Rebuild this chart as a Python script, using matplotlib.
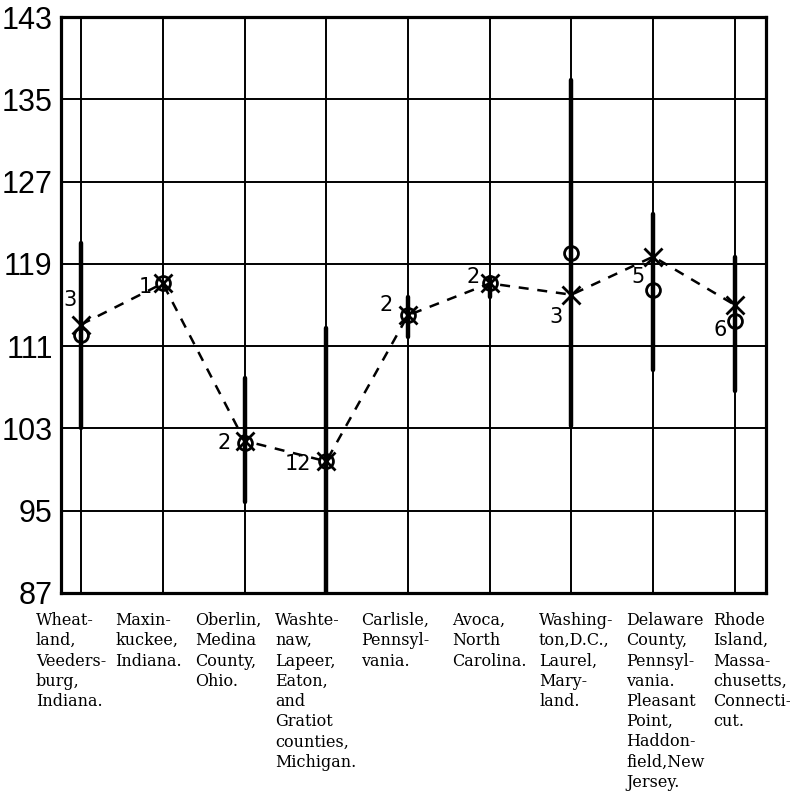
import matplotlib
matplotlib.use("Agg")
import matplotlib.pyplot as plt
import numpy as np

# ---- data ----
categories = [
    "Wheat-\nland,\nVeeders-\nburg,\nIndiana.",
    "Maxin-\nkuckee,\nIndiana.",
    "Oberlin,\nMedina\nCounty,\nOhio.",
    "Washte-\nnaw,\nLapeer,\nEaton,\nand\nGratiot\ncounties,\nMichigan.",
    "Carlisle,\nPennsyl-\nvania.",
    "Avoca,\nNorth\nCarolina.",
    "Washing-\nton,D.C.,\nLaurel,\nMary-\nland.",
    "Delaware\nCounty,\nPennsyl-\nvania.\nPleasant\nPoint,\nHaddon-\nfield,New\nJersey.",
    "Rhode\nIsland,\nMassa-\nchusetts,\nConnecti-\ncut.",
]
cross_values = [113.1, 117.1, 101.8, 99.8, 114.0, 117.1, 116.0, 119.7, 115.0]
circle_values = [112.1, 117.1, 101.6, 99.8, 114.0, 117.1, 120.1, 116.5, 113.4]
range_low = [103.0, np.nan, 95.8, 87.0, 111.9, 115.8, 103.2, 108.7, 106.6]
range_high = [121.0, np.nan, 107.9, 112.8, 115.8, 117.7, 136.9, 123.8, 119.7]
counts = ["3", "1", "2", "12", "2", "2", "3", "5", "6"]
y_ticks = [87, 95, 103, 111, 119, 127, 135, 143]

# ---- layout / style (not data) ----
count_offsets = [(-11, 25), (-17, -4), (-20, -2), (-28, -3), (-22, 10),
                 (-17, 6), (-15, -22), (-15, -20), (-15, -25)]
label_left_px = [36, 115, 195, 275, 361, 452, 539, 626, 713]

W, H = 790, 800
fig = plt.figure(figsize=(W / 100, H / 100), dpi=100)
ax = fig.add_axes([61 / W, 1 - 593 / H, (766 - 61) / W, (593 - 17) / H])

x = np.arange(len(categories))
ax.set_xlim(-0.245, 8.38)
ax.set_ylim(87, 143)

# grid
for yt in y_ticks:
    ax.axhline(yt, color="black", lw=1.4, zorder=1)
for xi in x:
    ax.axvline(xi, color="black", lw=1.4, zorder=1)

# ranges
ax.vlines(x, range_low, range_high, color="black", lw=3.2, zorder=2,
          capstyle="round")

# dashed line through crosses
ax.plot(x, cross_values, color="black", lw=1.8, ls=(0, (4, 3.5)), zorder=3)
ax.plot(x, cross_values, ls="none", marker="x", ms=13, mew=2.0,
        color="black", zorder=4)
ax.plot(x, circle_values, ls="none", marker="o", ms=10, mew=2.0,
        mfc="none", mec="black", zorder=4)

for xi, yv, c, (dx, dy) in zip(x, cross_values, counts, count_offsets):
    ax.annotate(c, xy=(xi, yv), xytext=(dx, dy), textcoords="offset pixels",
                ha="center", va="center", fontsize=15, family="DejaVu Sans")

ax.set_yticks(y_ticks)
ax.set_yticklabels([str(v) for v in y_ticks], fontsize=22,
                   family="Liberation Sans")
ax.tick_params(axis="y", length=0, pad=6)
ax.set_xticks([])
for s in ax.spines.values():
    s.set_linewidth(2.3)
    s.set_zorder(5)

for lab, px in zip(categories, label_left_px):
    fig.text(px / W, 1 - 612 / H, lab, ha="left", va="top", fontsize=11.5,
             family="DejaVu Serif", linespacing=1.25)

fig.savefig("out.png", dpi=100, facecolor="white")
